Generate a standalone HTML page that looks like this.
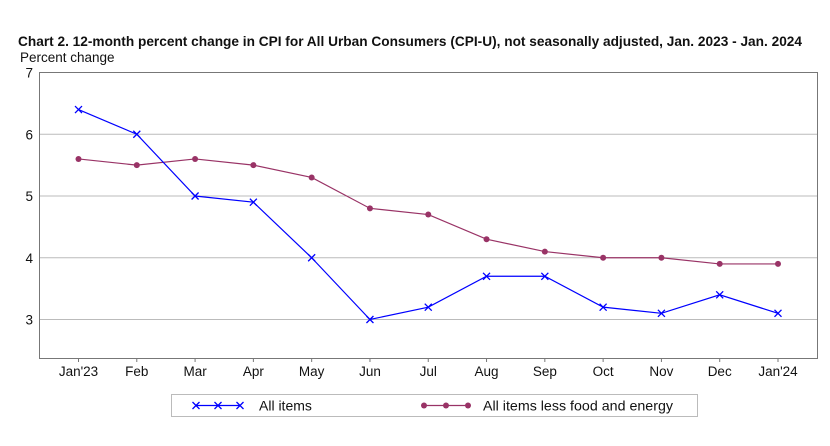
<!DOCTYPE html>
<html><head><meta charset="utf-8"><style>
body{margin:0;background:#fff;width:830px;height:441px;overflow:hidden;font-family:"Liberation Sans",sans-serif}
svg text{font-family:"Liberation Sans",sans-serif;fill:#111}
</style></head><body>
<svg id="c" width="830" height="441">
<text x="18" y="46" font-size="13.5" font-weight="bold" textLength="784" lengthAdjust="spacingAndGlyphs">Chart 2. 12-month percent change in CPI for All Urban Consumers (CPI-U), not seasonally adjusted, Jan. 2023 - Jan. 2024</text>
<text x="20" y="62" font-size="13.5">Percent change</text>
<g id="grid"></g>
<rect x="39.5" y="72.5" width="778" height="286" fill="none" stroke="#777"/>
<g id="marks"></g>
<rect x="171.5" y="394.5" width="526" height="22" fill="#fff" stroke="#bbb"/>
<g>
<line x1="196" y1="405.5" x2="240" y2="405.5" stroke="#0000ff" stroke-width="1.2"/>
<path d="M192.5,402L199.5,409M192.5,409L199.5,402M214.5,402L221.5,409M214.5,409L221.5,402M236.5,402L243.5,409M236.5,409L243.5,402" stroke="#0000ff" stroke-width="1.3"/>
<text x="259" y="410.5" font-size="14">All items</text>
</g>
<g>
<line x1="424" y1="405.5" x2="468" y2="405.5" stroke="#993366" stroke-width="1.2"/>
<circle cx="424" cy="405.5" r="3" fill="#993366"/><circle cx="446" cy="405.5" r="3" fill="#993366"/><circle cx="468" cy="405.5" r="3" fill="#993366"/>
<text x="483" y="410.5" font-size="14" textLength="190" lengthAdjust="spacingAndGlyphs">All items less food and energy</text>
</g>
</svg>
<script>
const categories=["Jan'23","Feb","Mar","Apr","May","Jun","Jul","Aug","Sep","Oct","Nov","Dec","Jan'24"];
const allItems=[6.4,6.0,5.0,4.9,4.0,3.0,3.2,3.7,3.7,3.2,3.1,3.4,3.1];
const core=[5.6,5.5,5.6,5.5,5.3,4.8,4.7,4.3,4.1,4.0,4.0,3.9,3.9];
const yTicks=[3,4,5,6,7];
const NS="http://www.w3.org/2000/svg";
function x(i){return 78.5+i*(778-78.5)/(categories.length-1);}
function y(v){return 72.5+(7-v)*61.75;}
function mk(t,a,p){const e=document.createElementNS(NS,t);for(const k in a)e.setAttribute(k,a[k]);p.appendChild(e);return e;}
const g=document.getElementById('grid'),m=document.getElementById('marks');
yTicks.forEach(v=>{
  if(v<7){const l=mk('line',{x1:40,x2:817,y1:y(v),y2:y(v),stroke:'#bbb'},g);
  
  }
  const t=mk('text',{x:33,y:y(v)+5,'font-size':13.5,'text-anchor':'end'},g);t.textContent=v;
  
  
});
categories.forEach((c,i)=>{
  mk('line',{x1:x(i),x2:x(i),y1:358.5,y2:362,stroke:'#777'},g);
  const t=mk('text',{x:x(i),y:376,'font-size':13.5,'text-anchor':'middle'},g);t.textContent=c;
  
  
});
const cl=mk('polyline',{points:core.map((v,i)=>x(i)+','+y(v)).join(' '),fill:'none',stroke:'#993366','stroke-width':1.2},m);


core.forEach((v,i)=>{const c=mk('circle',{cx:x(i),cy:y(v),r:3,fill:'#993366'},m);
  
  });
const al=mk('polyline',{points:allItems.map((v,i)=>x(i)+','+y(v)).join(' '),fill:'none',stroke:'#0000ff','stroke-width':1.2},m);


allItems.forEach((v,i)=>{const cx=x(i),cy=y(v),d=3.5;
  const p=mk('path',{d:`M${cx-d},${cy-d}L${cx+d},${cy+d}M${cx-d},${cy+d}L${cx+d},${cy-d}`,stroke:'#0000ff','stroke-width':1.3},m);
  
  });
</script>
</body></html>
